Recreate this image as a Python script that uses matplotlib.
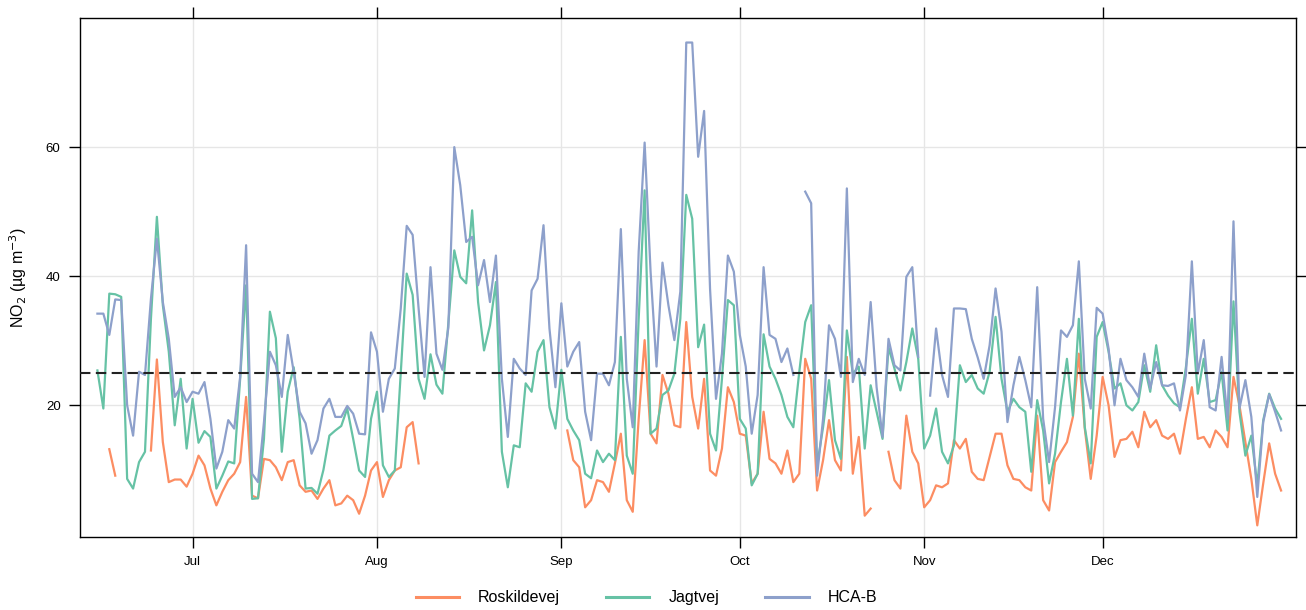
import numpy as np
import pandas as pd
import matplotlib
matplotlib.use("Agg")
import matplotlib.pyplot as plt

nan = np.nan

# daily means, 15 Jun - 31 Dec
start_day = "2019-06-15"

roskildevej = [
    nan, nan, 13.2, 9.1, nan, nan, nan, nan, nan, 13.0, 27.1, 14.3, 8.1, 8.5, 8.5, 7.4,
    9.4, 12.2, 10.7, 7.1, 4.5, 6.6, 8.4, 9.4, 11.2, 21.3, 6.0, 5.6, 11.7, 11.5, 10.4, 8.4,
    11.2, 11.5, 7.6, 6.6, 6.8, 5.5, 7.1, 8.4, 4.5, 4.8, 6.0, 5.3, 3.2, 6.0, 9.9, 11.2,
    5.8, 8.4, 9.9, 10.4, 16.6, 17.4, 11.0, nan, nan, nan, nan, nan, nan, nan, nan, nan,
    nan, nan, nan, nan, nan, nan, nan, nan, nan, nan, nan, nan, nan, nan, nan, 16.1,
    11.5, 10.4, 4.2, 5.3, 8.4, 8.1, 6.6, 11.0, 15.6, 5.3, 3.5, 17.9, 30.1, 15.6, 14.1, 24.7,
    21.8, 16.9, 16.6, 32.9, 21.3, 16.4, 24.1, 9.9, 9.1, 13.3, 22.8, 20.5, 15.6, 15.3, 7.9, 9.4,
    19.0, 11.7, 11.0, 9.4, 13.0, 8.1, 9.4, 27.2, 24.1, 6.8, 11.5, 17.7, 11.5, 9.9, 27.5, 9.4,
    15.1, 2.9, 4.0, nan, nan, 12.8, 8.4, 7.1, 18.4, 12.8, 11.0, 4.2, 5.3, 7.6, 7.3, 7.9,
    14.6, 13.3, 14.8, 9.7, 8.6, 8.4, 12.0, 15.6, 15.6, 10.7, 8.6, 8.4, 7.3, 6.8, 18.4, 5.3,
    3.7, 11.2, 12.8, 14.3, 18.2, 28.0, 16.4, 8.6, 15.3, 24.4, 20.0, 12.0, 14.6, 14.8, 15.9, 13.5,
    19.0, 16.6, 17.7, 15.3, 14.8, 15.6, 12.5, 17.9, 22.8, 14.8, 15.1, 13.5, 16.1, 15.1, 13.5, 24.4,
    20.0, 14.3, 8.6, 1.4, 7.9, 14.1, 9.4, 6.8,
]

jagtvej = [
    25.4, 19.5, 37.3, 37.2, 36.8, 8.6, 7.1, 11.2, 12.8, 33.4, 49.2, 35.5, 28.3, 16.9, 24.1, 13.3,
    21.0, 14.2, 16.0, 15.1, 7.1, 9.1, 11.3, 11.0, 24.1, 38.6, 5.5, 5.6, 14.8, 34.5, 30.4, 12.8,
    22.1, 25.9, 17.9, 7.1, 7.2, 6.3, 10.0, 15.3, 16.1, 16.8, 19.5, 14.8, 9.9, 8.9, 17.9, 22.1,
    10.7, 8.9, 9.9, 25.0, 40.4, 37.1, 24.1, 21.0, 27.9, 23.2, 21.8, 32.7, 44.0, 39.9, 38.9, 50.2,
    36.0, 28.5, 32.4, 39.1, 12.8, 7.3, 13.8, 13.5, 23.4, 22.1, 28.3, 30.1, 19.7, 16.4, 25.5, 17.9,
    16.1, 14.6, 9.4, 8.7, 13.0, 11.2, 12.5, 11.5, 30.6, 12.2, 9.4, 33.4, 53.3, 15.6, 16.4, 21.6,
    22.3, 24.9, 33.4, 52.6, 48.9, 29.0, 32.5, 15.6, 13.0, 24.1, 36.3, 35.5, 17.9, 16.4, 7.6, 9.4,
    31.0, 26.0, 24.1, 21.6, 18.2, 16.6, 25.2, 32.9, 35.5, 10.7, 16.6, 23.9, 14.6, 11.7, 31.6, 24.9,
    26.0, 13.3, 23.1, 19.0, 14.8, 29.0, 25.7, 22.3, 26.7, 31.9, 27.2, 13.3, 15.3, 19.5, 12.8, 11.0,
    13.8, 26.2, 23.6, 24.7, 22.6, 21.8, 25.2, 33.7, 24.1, 19.0, 21.0, 19.7, 19.0, 9.7, 20.8, 16.1,
    7.9, 12.5, 20.5, 27.2, 18.4, 33.4, 16.6, 11.0, 30.6, 32.9, 28.3, 22.6, 23.4, 20.0, 19.2, 20.5,
    26.2, 22.1, 29.3, 23.1, 21.5, 20.3, 19.7, 25.9, 33.4, 21.8, 27.2, 20.5, 20.8, 25.2, 16.1, 36.1,
    19.0, 12.2, 15.3, 7.6, 17.7, 21.8, 19.5, 17.9,
]

hca_b = [
    34.2, 34.2, 30.9, 36.4, 36.3, 20.0, 15.3, 25.2, 24.7, 36.5, 45.8, 36.0, 30.3, 21.3, 22.8, 20.5,
    22.1, 21.8, 23.6, 17.9, 10.2, 12.8, 17.7, 16.4, 24.4, 44.8, 9.4, 8.1, 17.4, 28.3, 26.2, 21.3,
    30.9, 25.2, 19.0, 17.2, 12.5, 14.6, 19.5, 21.0, 18.2, 18.2, 19.9, 18.7, 15.6, 15.5, 31.3, 28.3,
    19.0, 24.1, 25.7, 35.0, 47.8, 46.4, 35.0, 24.4, 41.4, 28.0, 25.5, 32.0, 60.0, 54.1, 45.3, 46.1,
    38.6, 42.5, 36.0, 43.2, 24.1, 15.1, 27.2, 25.7, 24.7, 37.8, 39.6, 47.9, 31.9, 22.8, 35.8, 26.0,
    28.3, 29.8, 19.0, 14.6, 24.9, 24.9, 23.1, 26.7, 47.3, 24.1, 16.6, 43.8, 60.7, 40.7, 26.0, 42.1,
    35.5, 30.1, 37.6, 76.2, 76.2, 58.5, 65.6, 38.0, 21.0, 28.0, 43.2, 40.7, 30.9, 26.0, 15.6, 21.6,
    41.4, 30.9, 30.3, 26.7, 28.8, 24.7, nan, 53.1, 51.3, 9.1, 17.9, 32.4, 30.3, 24.4, 53.6, 23.6,
    27.2, 24.7, 36.0, 22.8, 15.1, 30.3, 26.2, 25.4, 39.9, 41.4, 27.5, nan, 21.5, 31.9, 24.7, 21.3,
    35.0, 35.0, 34.9, 30.3, 27.4, 24.1, 29.3, 38.1, 31.4, 17.4, 23.1, 27.5, 23.9, 19.7, 38.3, 17.9,
    11.2, 19.7, 31.6, 30.6, 32.4, 42.3, 24.1, 19.5, 35.1, 34.2, 28.8, 20.0, 27.2, 23.9, 22.8, 21.3,
    28.0, 22.6, 26.7, 23.1, 23.0, 23.4, 19.2, 24.7, 42.3, 24.9, 30.1, 19.7, 19.2, 27.5, 17.9, 48.5,
    19.5, 23.9, 18.2, 5.8, 17.4, 21.7, 19.0, 16.1,
]

site_names = ["Roskildevej", "Jagtvej", "HCA-B"]
site_colors = ["#fc8d62", "#66c2a5", "#8da0cb"]
limit_value = 25

month_ticks = ["2019-07-01", "2019-08-01", "2019-09-01", "2019-10-01", "2019-11-01", "2019-12-01"]
month_labels = ["Jul", "Aug", "Sep", "Oct", "Nov", "Dec"]
y_ticks = [20, 40, 60]

dates = pd.date_range(start_day, periods=len(jagtvej), freq="D")

plt.rcParams["font.family"] = ["Liberation Sans", "DejaVu Sans"]

fig = plt.figure(figsize=(13.06, 6.10), dpi=100)
ax = fig.add_axes([0.0613, 0.1197, 0.9310, 0.8508])

for values, name, col in zip([roskildevej, jagtvej, hca_b], site_names, site_colors):
    ax.plot(dates, values, color=col, lw=1.6, label=name)

ax.axhline(limit_value, color="#222222", lw=1.5, ls=(0, (5, 2.6)), zorder=5)

ax.set_xlim(pd.Timestamp("2019-06-12 02:00"), pd.Timestamp("2020-01-02 12:00"))
ax.set_ylim(-0.4, 80)

ax.set_xticks(pd.to_datetime(month_ticks))
ax.set_xticklabels(month_labels)
ax.set_yticks(y_ticks)
ax.grid(True, color="#e6e6e6", lw=1)
ax.set_axisbelow(True)

ax.tick_params(direction="out", length=8, width=1, top=True, right=True,
               labeltop=False, labelright=False, labelsize=9.5, pad=6)
for s in ax.spines.values():
    s.set_linewidth(1)

ax.set_ylabel("NO$_2$ (\u00b5g m$^{-3}$)", fontsize=11.5, labelpad=12)

leg = fig.legend(loc="center", bbox_to_anchor=(0.495, 0.02), ncol=3, frameon=False,
                 fontsize=11.5, handlelength=2.7, handletextpad=1.2, columnspacing=2.9)
for ln in leg.get_lines():
    ln.set_linewidth(2.2)

fig.savefig("out.png", dpi=100)
